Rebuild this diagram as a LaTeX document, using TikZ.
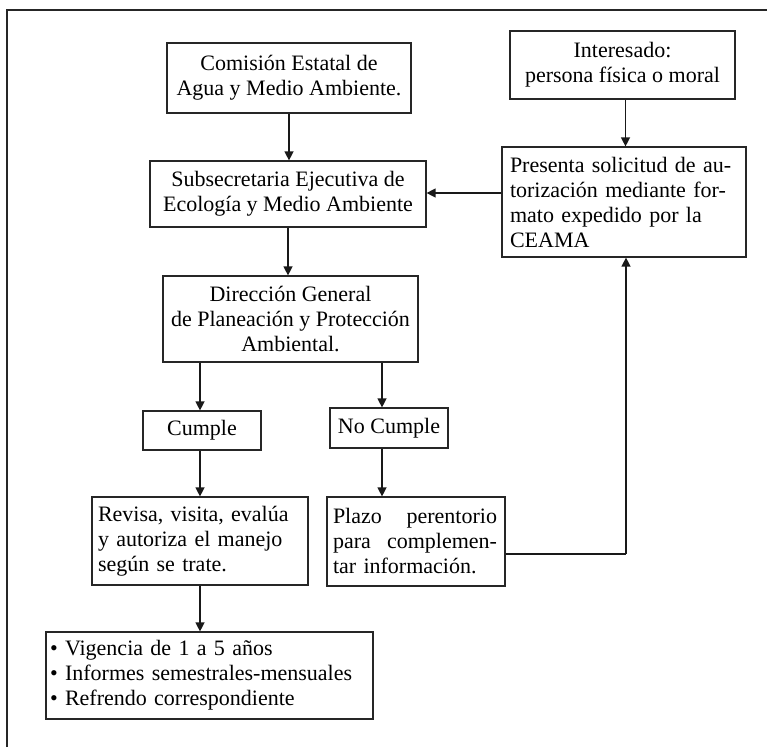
\documentclass[tikz,border=0pt]{standalone}
\usepackage{fontspec}
\setmainfont{Liberation Serif}
\usetikzlibrary{arrows.meta}
\tikzset{
  box/.style={draw=black!85, line width=1.2pt, inner sep=0pt, align=center,
    font=\fontsize{22}{25}\selectfont},
  conn/.style={draw=black!90, line width=1.3pt, -{Triangle[width=9pt,length=9pt]}},
  link/.style={draw=black!90, line width=1.3pt}
}
\begin{document}
\begin{tikzpicture}[x=1pt,y=-1pt]
\useasboundingbox (0,0) rectangle (767,747);
\draw[line width=1.5pt, black!85] (7,747) -- (7,10) -- (767,10);

\node[box, minimum width=244pt, minimum height=70pt] (com) at (289,78)
  {Comisión Estatal de\\Agua y Medio Ambiente.};
\node[box, minimum width=276pt, minimum height=66pt] (sub) at (288,194)
  {Subsecretaria Ejecutiva de\\Ecología y Medio Ambiente};
\node[box, minimum width=255pt, minimum height=86pt] (dir) at (290.5,319)
  {Dirección General\\de Planeación y Protección\\Ambiental.};
\node[box, minimum width=225pt, minimum height=68pt] (int) at (622.5,65)
  {Interesado:\\persona física o moral};
\node[box, minimum height=110pt, inner xsep=8pt, text width=228pt, align=left] (pre) at (624,202)
  {Presenta solicitud de au-\\torización mediante for-\\mato expedido por la\\CEAMA};
\node[box, minimum width=118pt, minimum height=39pt] (cum) at (202,430.5) {Cumple};
\node[box, minimum width=118pt, minimum height=40pt] (noc) at (389,428) {No Cumple};
\node[box, minimum height=88pt, inner xsep=6pt, text width=204pt, align=left] (rev) at (200,541)
  {Revisa, visita, evalúa\\y autoriza el manejo\\según se trate.};
\node[box, minimum height=89pt, inner xsep=6pt, text width=166pt, align=left] (pla) at (416,541.5)
  {\makebox[164pt]{Plazo\hfill perentorio}\\\makebox[164pt]{para\hfill complemen-}\\tar información.};
\node[box, minimum height=87pt, inner xsep=4pt, text width=319pt, align=left] (bul) at (209.5,675.5)
  {\textbullet\ Vigencia de 1 a 5 años\\\textbullet\ Informes semestrales-mensuales\\\textbullet\ Refrendo correspondiente};

\draw[conn] (com.south) -- (com.south |- sub.north);
\draw[conn] (sub.south) -- (sub.south |- dir.north);
\draw[conn] ([xshift=3pt]int.south) -- ([xshift=3pt]int.south |- pre.north);
\draw[conn] ([yshift=9pt]pre.west) -- ([yshift=9pt]pre.west -| sub.east);
\draw[conn] ([xshift=-2pt]cum.north |- dir.south) -- ([xshift=-2pt]cum.north);
\draw[conn] ([xshift=-7pt]noc.north |- dir.south) -- ([xshift=-7pt]noc.north);
\draw[conn] ([xshift=-2pt]cum.south) -- ([xshift=-2pt]cum.south |- rev.north);
\draw[conn] ([xshift=-7pt]noc.south) -- ([xshift=-7pt]noc.south |- pla.north);
\draw[conn] (rev.south) -- (rev.south |- bul.north);
\coordinate (corner) at ([xshift=2pt]pre.south |- pla.east);
\draw[link] ([yshift=-12.5pt]pla.east) -- ([yshift=-12.5pt]pla.east -| corner);
\draw[conn] ([yshift=-12.5pt]pla.east -| corner) -- ([xshift=2pt]pre.south);
\end{tikzpicture}
\end{document}
